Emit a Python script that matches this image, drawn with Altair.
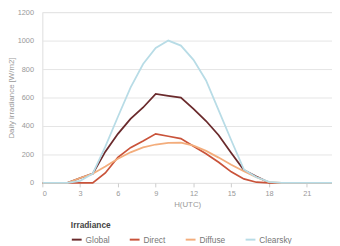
import altair as alt
import pandas as pd

hours = list(range(24))
global_irr = [0, 0, 0, 35, 65, 220, 345, 450, 530, 625, 612, 600, 520, 435, 335, 210, 90, 45, 3, 0, 0, 0, 0, 0]
direct_irr = [0, 0, 0, 0, 0, 70, 180, 248, 295, 345, 328, 312, 258, 205, 145, 78, 28, 5, 0, 0, 0, 0, 0, 0]
diffuse_irr = [0, 0, 0, 35, 65, 115, 170, 215, 250, 270, 282, 283, 262, 225, 178, 128, 82, 40, 5, 0, 0, 0, 0, 0]
clearsky_irr = [0, 0, 0, 15, 65, 255, 465, 670, 835, 948, 1000, 965, 865, 720, 510, 300, 95, 40, 8, 0, 0, 0, 0, 0]

series = ["Global", "Direct", "Diffuse", "Clearsky"]
colors = ["#6a2a2c", "#c9533a", "#f3ad7c", "#b8dce6"]

rows = []
for name, vals in zip(series, [global_irr, direct_irr, diffuse_irr, clearsky_irr]):
    for h, v in zip(hours, vals):
        rows.append({"hour": h, "value": v, "Irradiance": name})
df = pd.DataFrame(rows)

chart = alt.Chart(df).mark_line(strokeWidth=1.8).encode(
    x=alt.X("hour:Q", title="H(UTC)",
            scale=alt.Scale(domain=[0, 23], nice=False),
            axis=alt.Axis(values=[0, 3, 6, 9, 12, 15, 18, 21], grid=False, domain=False,
                          tickSize=4, tickColor="#cccccc", labelColor="#999999",
                          labelFontSize=7.5, titleFontSize=8, titleColor="#999999",
                          titleFontWeight="normal", labelPadding=3, titlePadding=3)),
    y=alt.Y("value:Q", title="Daily irradiance [W/m2]",
            scale=alt.Scale(domain=[0, 1200], nice=False),
            axis=alt.Axis(values=[0, 200, 400, 600, 800, 1000, 1200], ticks=False, domain=False,
                          format="d",
                          gridColor="#e4e4e4", labelColor="#999999", labelFontSize=7.5,
                          labelPadding=9, titleFontSize=8, titleColor="#999999",
                          titleFontWeight="normal", titlePadding=2)),
    color=alt.Color("Irradiance:N",
                    scale=alt.Scale(domain=series, range=colors),
                    sort=series,
                    legend=alt.Legend(orient="none", legendX=29, legendY=213, direction="horizontal",
                                      symbolType="stroke", symbolSize=100, symbolStrokeWidth=2,
                                      titleFontSize=8.5, titleColor="#444444", labelFontSize=8.5,
                                      labelColor="#777777", columnPadding=16, labelOffset=3,
                                      titlePadding=4)),
    order=alt.Order("order:Q"),
).transform_calculate(
    order="indexof(['Global','Direct','Diffuse','Clearsky'], datum.Irradiance)"
).properties(
    width=295, height=174,
    autosize="none",
    padding={"left": 35, "top": 2, "right": 0, "bottom": 60},
).configure_view(stroke=None).configure(font="Arial")

chart.save("out.html", embed_options={"renderer": "svg", "actions": False})
